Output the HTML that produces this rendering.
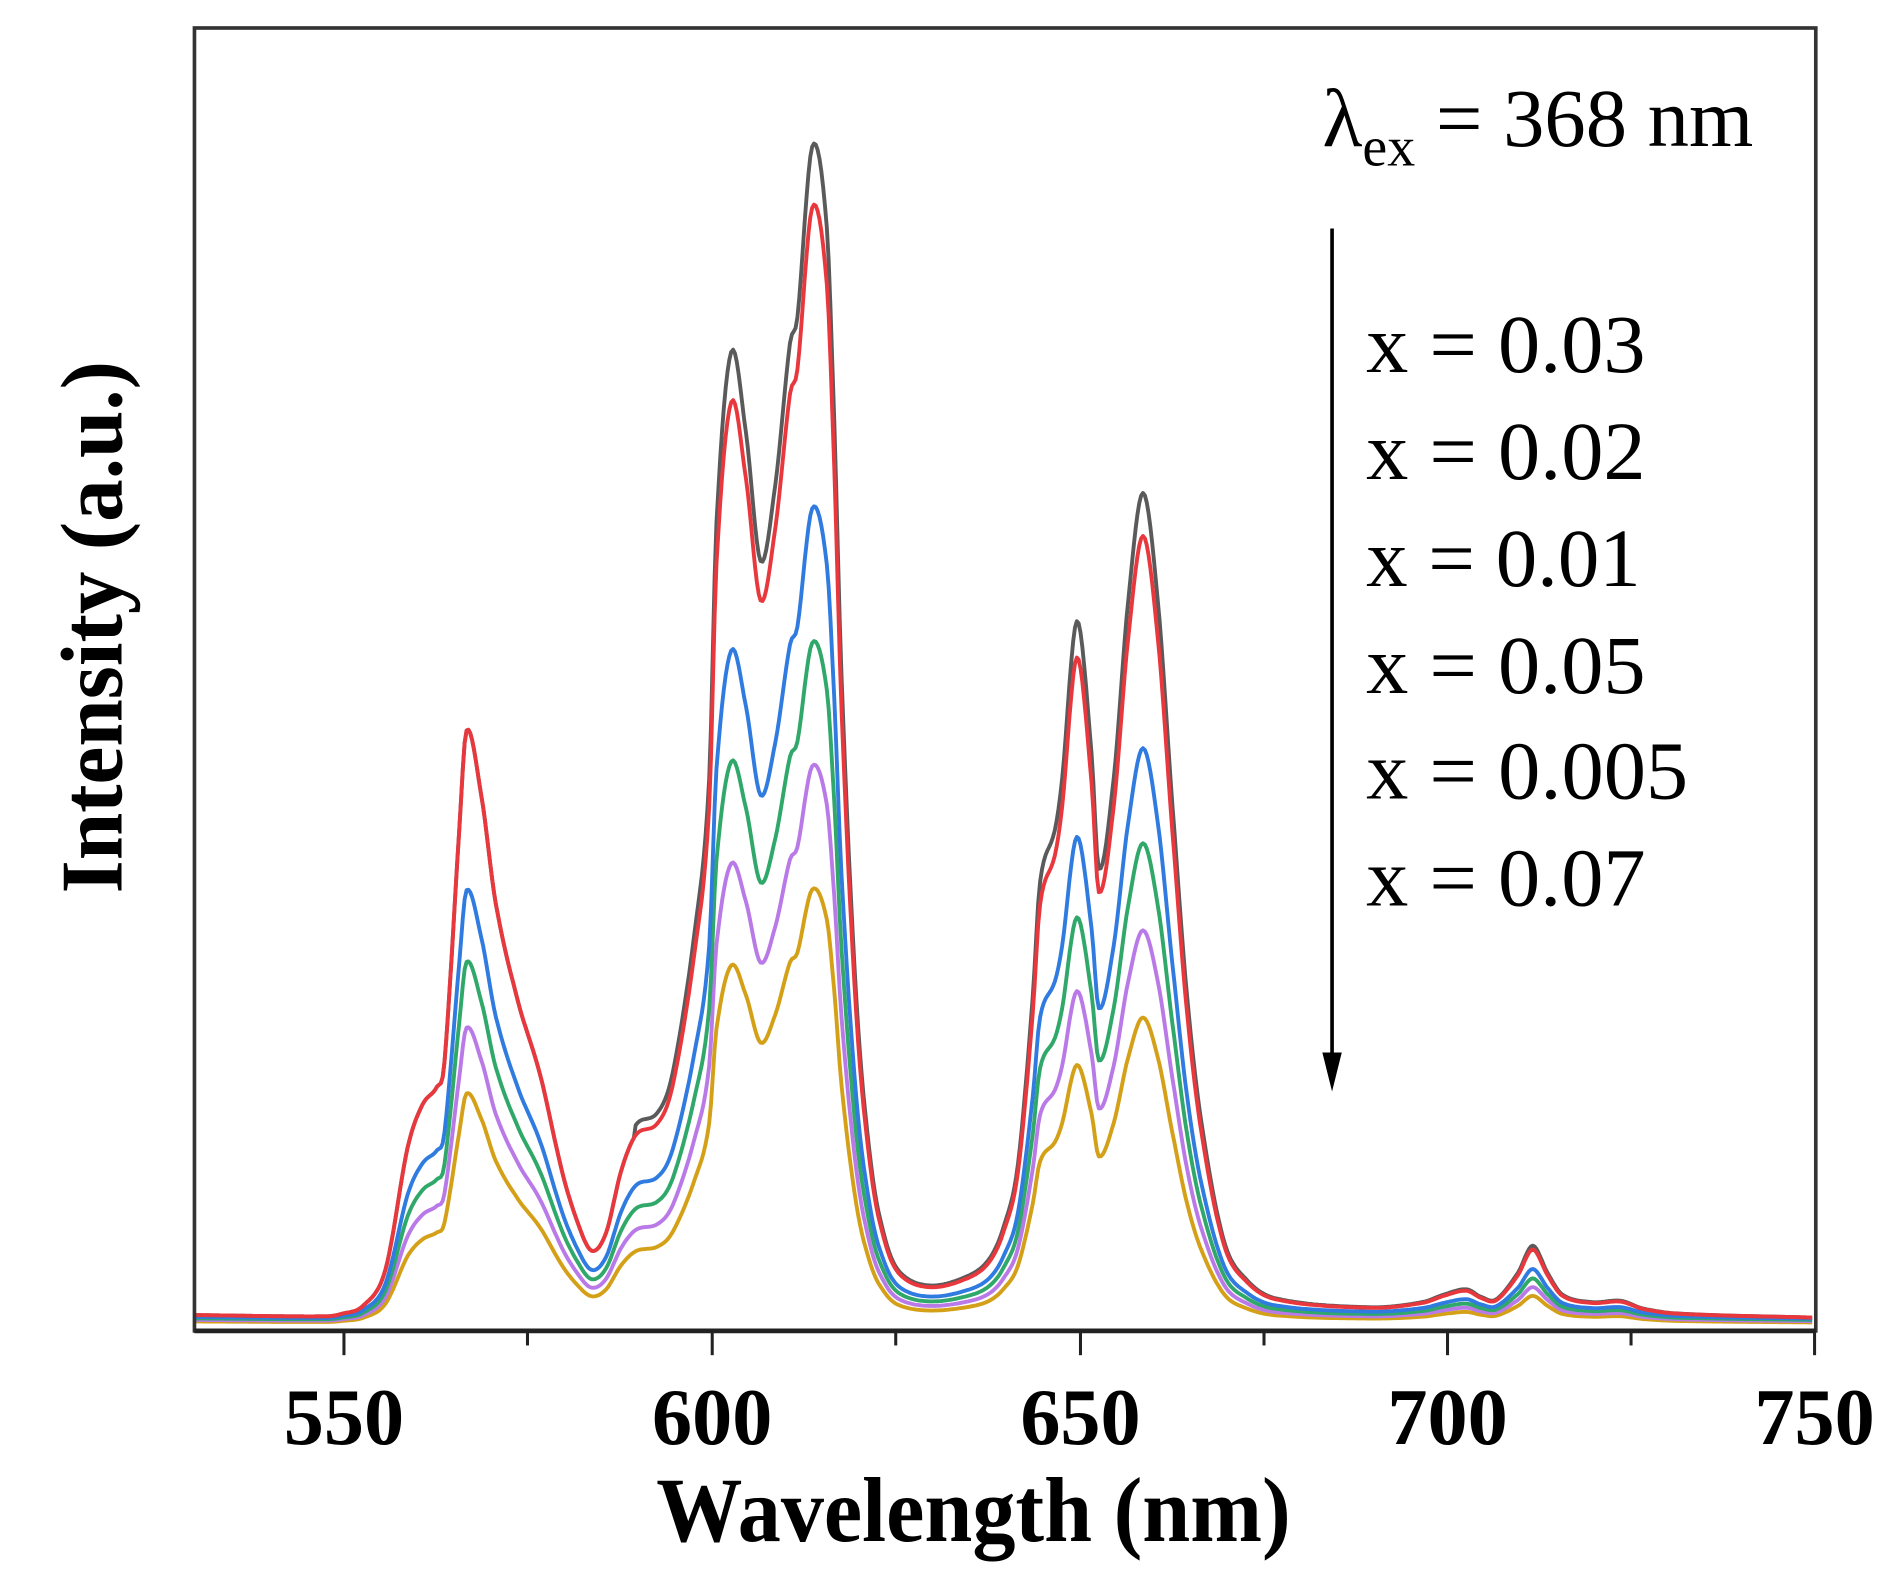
<!DOCTYPE html>
<html><head><meta charset="utf-8"><style>
html,body{margin:0;padding:0;background:#fff;}
svg{display:block;}
</style></head><body>
<svg id="s" width="1896" height="1578" viewBox="0 0 1560 1298.3" xmlns="http://www.w3.org/2000/svg">
<rect x="0" y="0" width="1560" height="1298.3" fill="#fff"/>
<g id="curves" fill="none" stroke-width="3.2" stroke-linejoin="round"></g>
<rect x="160" y="23" width="1334" height="1072" fill="none" stroke="#333" stroke-width="3"/>
<line x1="160" y1="1095" x2="1494" y2="1095" stroke="#222" stroke-width="4"/>
<g stroke="#222" stroke-width="2.5">
<line x1="283" y1="1095" x2="283" y2="1115"/><line x1="434" y1="1095" x2="434" y2="1107"/>
<line x1="586" y1="1095" x2="586" y2="1115"/><line x1="737" y1="1095" x2="737" y2="1107"/>
<line x1="889" y1="1095" x2="889" y2="1115"/><line x1="1040" y1="1095" x2="1040" y2="1107"/>
<line x1="1191" y1="1095" x2="1191" y2="1115"/><line x1="1342" y1="1095" x2="1342" y2="1107"/>
<line x1="1493" y1="1095" x2="1493" y2="1115"/>
</g>
<g font-family="Liberation Serif, serif" font-weight="bold" font-size="66" text-anchor="middle" fill="#000">
<text x="283" y="1188">550</text><text x="586" y="1188">600</text><text x="889" y="1188">650</text>
<text x="1191" y="1188">700</text><text x="1493" y="1188">750</text>
<text x="801" y="1268" font-size="76" textLength="522" lengthAdjust="spacingAndGlyphs">Wavelength (nm)</text>
<text transform="translate(100,516) rotate(-90)" font-size="72" textLength="438" lengthAdjust="spacingAndGlyphs">Intensity (a.u.)</text>
</g>
<g font-family="Liberation Serif, serif" font-size="68" fill="#000">
<text x="1088" y="120">λ<tspan font-size="46" dy="16">ex</tspan><tspan dy="-16"> = 368 nm</tspan></text>
<text x="1124" y="306" textLength="230" lengthAdjust="spacingAndGlyphs">x = 0.03</text>
<text x="1124" y="394" textLength="230" lengthAdjust="spacingAndGlyphs">x = 0.02</text>
<text x="1124" y="482" textLength="226" lengthAdjust="spacingAndGlyphs">x = 0.01</text>
<text x="1124" y="570" textLength="230" lengthAdjust="spacingAndGlyphs">x = 0.05</text>
<text x="1124" y="657" textLength="265" lengthAdjust="spacingAndGlyphs">x = 0.005</text>
<text x="1124" y="745" textLength="230" lengthAdjust="spacingAndGlyphs">x = 0.07</text>
</g>
<line x1="1096" y1="188" x2="1096" y2="870" stroke="#000" stroke-width="3"/>
<polygon points="1088,866 1104,866 1096,898" fill="#000"/>
</svg>
<script>
var P=[[530,2],[548,1],[550,3],[553,10],[556,40],[559,140],[561,175],[563,190],[564,210],[566,400],[567,483],[569,430],[571,340],[574,260],[577,200],[580,120],[582,80],[584,55],[586,70],[588,120],[590,150],[593,160],[595,190],[598,300],[600,420],[601,620],[603,753],[605,690],[607,590],[609,650],[611,760],[612,780],[614,913],[616,850],[617,700],[618,500],[620,250],[622,120],[624,60],[626,35],[630,25],[635,32],[638,45],[640,70],[642,120],[644,250],[645,340],[647,380],[648,420],[650,543],[652,440],[653,350],[655,420],[657,560],[659,643],[661,560],[663,400],[665,250],[667,150],[670,60],[673,30],[677,15],[690,8],[697,12],[700,18],[703,22],[705,16],[707,14],[710,35],[712,56],[714,35],[716,18],[720,12],[724,13],[727,7],[732,3],[750,0]];
function val(l){for(var i=0;i<P.length-1;i++){if(l>=P[i][0]&&l<=P[i+1][0]){var p0=P[Math.max(i-1,0)],a=P[i],b=P[i+1],p3=P[Math.min(i+2,P.length-1)];var t=(l-a[0])/(b[0]-a[0]);var h=b[0]-a[0];var m1=(b[1]-p0[1])/(b[0]-p0[0]||1)*h,m2=(p3[1]-a[1])/(p3[0]-a[0]||1)*h;var t2=t*t,t3=t2*t;var v=(2*t3-3*t2+1)*a[1]+(t3-2*t2+t)*m1+(-2*t3+3*t2)*b[1]+(t3-t2)*m2;return Math.max(v,0);}}return 0;}
var S=[["#d4a017",0.39,1088],["#b97ae8",0.50,1087],["#2fa86a",0.61,1086],["#2f7be0",0.73,1085],["#5a5a5a",1.055,1084],["#e8383d",1.0,1084]];
var g=document.getElementById('curves');
S.forEach(function(s){var d="";for(var l=530;l<=750;l+=0.25){var v=val(l);var f=s[1];if(s[0]=="#5a5a5a"&&l<590)f=1.0;var x=160+(l-530)*6.05,y=s[2]-f*v;d+=(d?"L":"M")+x.toFixed(1)+","+y.toFixed(1);}
var p=document.createElementNS("http://www.w3.org/2000/svg","path");p.setAttribute("d",d);p.setAttribute("stroke",s[0]);g.appendChild(p);});
</script>
</body></html>
